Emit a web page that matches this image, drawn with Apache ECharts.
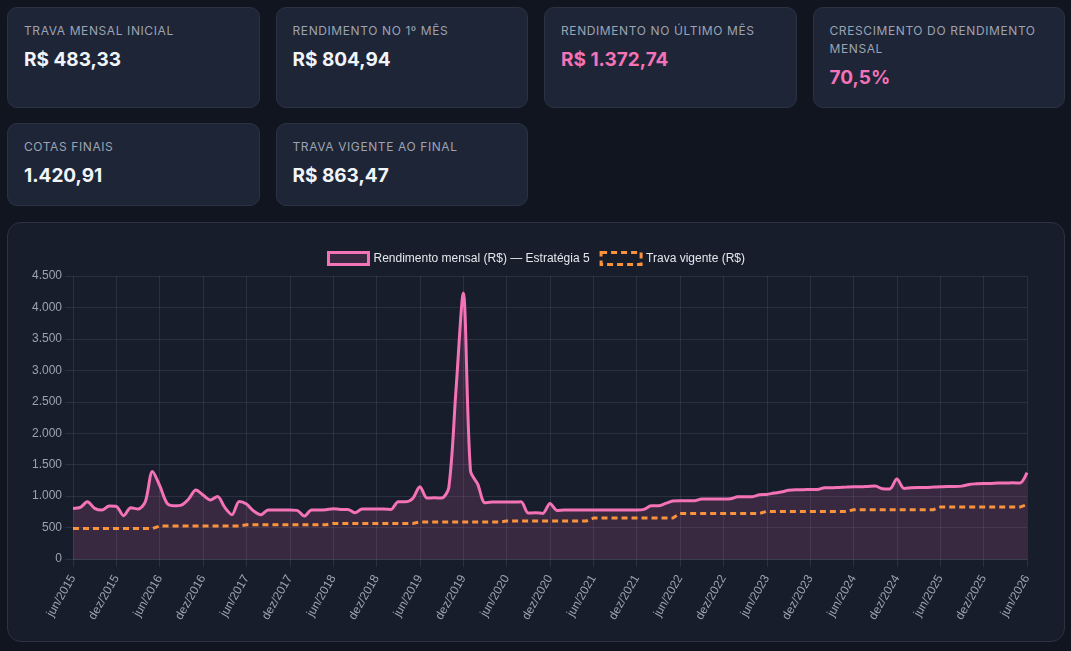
<!DOCTYPE html>
<html lang="pt-BR">
<head>
<meta charset="utf-8">
<title>Estratégia 5 - Rendimento mensal</title>
<script src="https://cdn.jsdelivr.net/npm/echarts@6/dist/echarts.min.js"></script>
<style>
  html, body { margin: 0; padding: 0; background: #11151f; }
  body {
    width: 1071px; height: 651px; overflow: hidden; box-sizing: border-box;
    padding: 7px 6px 0 7px;
    font-family: Inter, "Noto Sans", sans-serif;
  }
  .kpis { display: grid; grid-template-columns: repeat(4, 1fr); column-gap: 16px; row-gap: 15px; }
  .card {
    background: #1e2536; border: 1px solid #2b3244; border-radius: 10px;
    padding: 14px 16px 17px;
  }
  .label { font-size: 12px; line-height: 18px; letter-spacing: 0.6px; color: #9ca3b4; text-transform: uppercase; }
  .value { font-size: 19px; font-weight: 700; line-height: 24px; margin-top: 8px; color: #f1f5f9; }
  .pink { color: #f472b6; }
  .chart-box {
    margin-top: 16px; background: #181d2c; border: 1px solid #2b3244;
    border-radius: 14px; height: 418px; overflow: hidden;
  }
  #main { width: 1056px; height: 418px; }
</style>
</head>
<body>
  <div class="kpis">
    <div class="card"><div class="label">Trava mensal inicial</div><div class="value">R$ 483,33</div></div>
    <div class="card"><div class="label">Rendimento no 1º mês</div><div class="value">R$ 804,94</div></div>
    <div class="card"><div class="label">Rendimento no último mês</div><div class="value pink">R$ 1.372,74</div></div>
    <div class="card"><div class="label">Crescimento do rendimento mensal</div><div class="value pink">70,5%</div></div>
    <div class="card"><div class="label">Cotas finais</div><div class="value">1.420,91</div></div>
    <div class="card"><div class="label">Trava vigente ao final</div><div class="value">R$ 863,47</div></div>
  </div>
  <div class="chart-box"><div id="main"></div></div>

<script>
// meses de jun/2015 a jun/2026
const meses = ['jan', 'fev', 'mar', 'abr', 'mai', 'jun', 'jul', 'ago', 'set', 'out', 'nov', 'dez'];
const anoInicial = 2015;
const mesInicial = 5; // jun
const totalMeses = 133;

// rendimento mensal (R$), uma linha por ano (jun..mai)
const rendimento = [
  804.94, 820, 910, 805, 778, 842, 836, 688, 815, 794, 910, 1392,
  1165, 889, 847, 858, 953, 1096, 1016, 937, 995, 820, 704, 916,
  873, 762, 704, 778, 778, 778, 778, 773, 683, 778, 778, 783,
  800, 789, 789, 736, 794, 794, 794, 794, 789, 910, 910, 963,
  1149, 969, 974, 969, 1138, 2700, 4230, 1400, 1191, 895, 905, 905,
  905, 905, 910, 730, 736, 725, 884, 773, 780, 780, 780, 780,
  780, 780, 780, 780, 780, 780, 780, 789, 847, 847, 884, 921,
  926, 926, 926, 953, 953, 953, 953, 958, 990, 990, 990, 1022,
  1027, 1048, 1064, 1093, 1101, 1101, 1106, 1106, 1133, 1133, 1138, 1143,
  1149, 1149, 1154, 1159, 1117, 1112, 1271, 1122, 1133, 1138, 1138, 1143,
  1149, 1154, 1154, 1159, 1186, 1196, 1202, 1202, 1207, 1207, 1212, 1207,
  1372.74
];

// trava vigente (R$), reajustada todo junho
const trava = [
  483.33, 483.33, 483.33, 483.33, 483.33, 483.33, 483.33, 483.33, 483.33, 483.33, 483.33, 483.33,
  524, 524, 524, 524, 524, 524, 524, 524, 524, 524, 524, 524,
  546, 546, 546, 546, 546, 546, 546, 546, 546, 546, 546, 546,
  566, 566, 566, 566, 566, 566, 566, 566, 566, 566, 566, 566,
  588, 588, 588, 588, 588, 588, 588, 588, 588, 588, 588, 588,
  603, 603, 603, 603, 603, 603, 603, 603, 603, 603, 603, 603,
  651, 651, 651, 651, 651, 651, 651, 651, 651, 651, 651, 651,
  725, 725, 725, 725, 725, 725, 725, 725, 725, 725, 725, 725,
  757, 757, 757, 757, 757, 757, 757, 757, 757, 757, 757, 757,
  783, 783, 783, 783, 783, 783, 783, 783, 783, 783, 783, 783,
  826, 826, 826, 826, 826, 826, 826, 826, 826, 826, 826, 826,
  863.47
];

const labels = [];
for (let i = 0; i < totalMeses; i++) {
  const m = mesInicial + i;
  labels.push(meses[m % 12] + '/' + (anoInicial + Math.floor(m / 12)));
}

const fmtMilhar = v => String(v).replace(/\B(?=(\d{3})+(?!\d))/g, '.');

const gridColor = 'rgba(148,163,184,0.15)';
const chartFont = '"Liberation Sans", Arial, sans-serif';
const nomeRend = 'Rendimento mensal (R$) — Estratégia 5';
const nomeTrava = 'Trava vigente (R$)';

const myChart = echarts.init(document.getElementById('main'));
const option = {
  animation: false,
  textStyle: { fontFamily: chartFont },
  legend: {
    top: 23,
    left: 'center',
    itemWidth: 40,
    itemHeight: 12,
    itemGap: 10,
    icon: 'rect',
    textStyle: { color: '#e5e7eb', fontSize: 12, fontFamily: chartFont },
    data: [
      { name: nomeRend, itemStyle: { color: 'rgba(244,114,182,0.15)', borderColor: '#f472b6', borderWidth: 3 } },
      { name: nomeTrava, itemStyle: { color: 'rgba(0,0,0,0)', borderColor: '#fb923c', borderWidth: 3, borderType: [6, 4] } }
    ]
  },
  grid: { left: 65, right: 37, top: 53, bottom: 82 },
  xAxis: {
    type: 'category',
    boundaryGap: false,
    data: labels,
    axisLine: { lineStyle: { color: gridColor } },
    axisTick: { show: true, interval: 5, length: 8, lineStyle: { color: gridColor } },
    axisLabel: { interval: 5, rotate: 60, margin: 17, color: '#9ca3af', fontSize: 12, fontFamily: chartFont },
    splitLine: { show: true, interval: 5, lineStyle: { color: gridColor } }
  },
  yAxis: {
    type: 'value',
    min: 0,
    max: 4500,
    interval: 500,
    axisLine: { show: false },
    axisTick: { show: true, length: 8, lineStyle: { color: gridColor } },
    axisLabel: { margin: 11, color: '#9ca3af', fontSize: 12, fontFamily: chartFont, formatter: fmtMilhar },
    splitLine: { show: true, lineStyle: { color: gridColor } }
  },
  series: [
    {
      name: nomeRend,
      type: 'line',
      data: rendimento,
      smooth: 0.3,
      symbol: 'none',
      lineStyle: { color: '#f472b6', width: 3 },
      itemStyle: { color: '#f472b6' },
      areaStyle: { color: 'rgba(244,114,182,0.15)', opacity: 1, origin: 'start' }
    },
    {
      name: nomeTrava,
      type: 'line',
      data: trava,
      symbol: 'none',
      lineStyle: { color: '#fb923c', width: 3, type: [6, 4] },
      itemStyle: { color: '#fb923c' }
    }
  ]
};
option && myChart.setOption(option);
</script>
</body>
</html>
